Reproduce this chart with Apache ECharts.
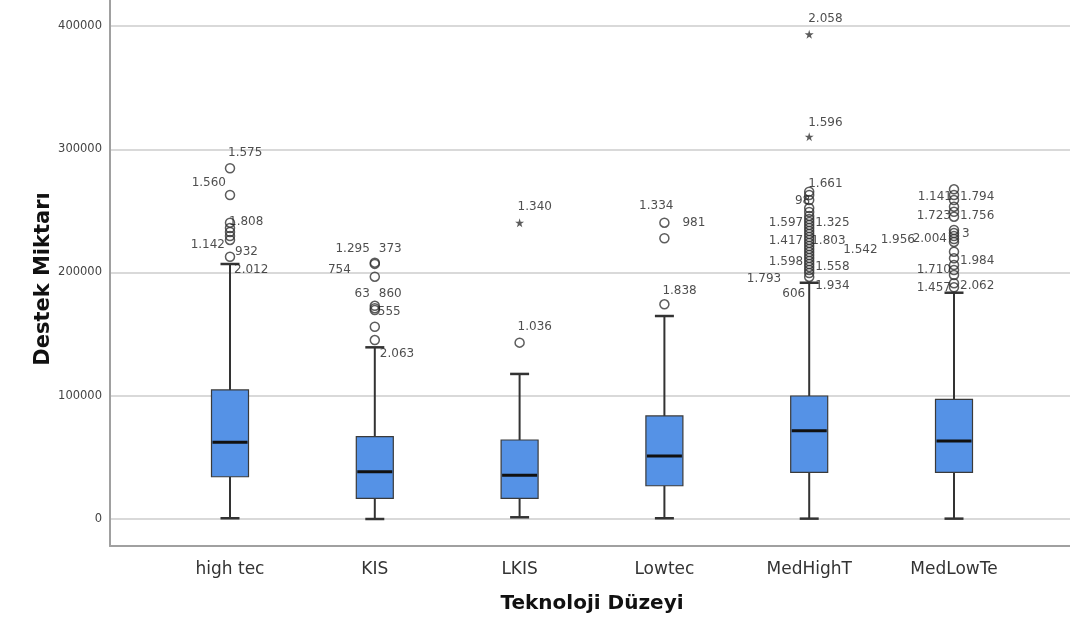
<!DOCTYPE html>
<html>
<head>
<meta charset="utf-8">
<script src="https://cdn.jsdelivr.net/npm/echarts@6/dist/echarts.min.js"></script>
<style>html,body{margin:0;padding:0;background:#fff}#c{width:1070px;height:622px}</style>
</head>
<body>
<div id="c"></div>
<script>
const categories = ['high tec', 'KIS', 'LKIS', 'Lowtec', 'MedHighT', 'MedLowTe'];
const yTicks = [0, 100000, 200000, 300000, 400000];
// [lower whisker, Q1, median, Q3, upper whisker]
const boxStats = [
  [600, 34300, 62200, 104700, 206900],
  [0, 16800, 38400, 66800, 139300],
  [1400, 16800, 35500, 64100, 117700],
  [600, 27000, 51100, 83600, 164700],
  [300, 37900, 71600, 99800, 191700],
  [300, 37900, 63300, 97100, 183600]
];
const outlierCircles = [
  [0, 284600], [0, 262900], [0, 240400], [0, 236100], [0, 232900], [0, 229600], [0, 226400], [0, 212800],
  [1, 208000], [1, 207000], [1, 196600], [1, 173000], [1, 171000], [1, 169500], [1, 156000], [1, 145200],
  [2, 143100],
  [3, 240400], [3, 227800], [3, 174200],
  [4, 265600], [4, 262900], [4, 258800], [4, 252300], [4, 249100], [4, 245900], [4, 243400], [4, 241000],
  [4, 238600], [4, 236100], [4, 233700], [4, 231300], [4, 228800], [4, 226400], [4, 224000], [4, 221500],
  [4, 219100], [4, 216600], [4, 214200], [4, 211800], [4, 209300], [4, 206900], [4, 204500], [4, 202000],
  [4, 199600], [4, 196400],
  [5, 267500], [5, 262900], [5, 258800], [5, 253400], [5, 249300], [5, 245300], [5, 234500], [5, 232000],
  [5, 229600], [5, 227200], [5, 224800], [5, 216900], [5, 211500], [5, 206100], [5, 202000], [5, 198000],
  [5, 191300], [5, 188000]
];
const outlierStars = [[2, 240400], [4, 393300], [4, 310200]];
// [category, value, case label]
const caseLabels = [
  [0, 297000, '1.575'], [0, 272600, '1.560'], [0, 241000, '1.808'], [0, 222300, '1.142'],
  [0, 216600, '932'], [0, 202000, '2.012'],
  [1, 219100, '1.295'], [1, 219100, '373'], [1, 202000, '754'], [1, 182600, '63'],
  [1, 182600, '860'], [1, 168000, '555'], [1, 133900, '2.063'],
  [2, 253200, '1.340'], [2, 155800, '1.036'],
  [3, 254000, '1.334'], [3, 240200, '981'], [3, 185300, '1.838'],
  [4, 405700, '2.058'], [4, 321300, '1.596'], [4, 271800, '1.661'], [4, 258000, '98'],
  [4, 240200, '1.597'], [4, 240200, '1.325'], [4, 225600, '1.417'], [4, 225600, '1.803'],
  [4, 218300, '1.542'], [4, 208500, '1.598'], [4, 204500, '1.558'], [4, 194700, '1.793'],
  [4, 182600, '606'], [4, 189000, '1.934'],
  [5, 261300, '1.141'], [5, 261300, '1.794'], [5, 245900, '1.723'], [5, 245900, '1.756'],
  [5, 226400, '1.956'], [5, 227200, '2.004'], [5, 231300, '3'], [5, 209300, '1.984'],
  [5, 202000, '1.710'], [5, 187400, '1.457'], [5, 189000, '2.062']
];
// label anchor side and pixel shift, parallel to caseLabels
const labelPlacement = [
  ['left', -2], ['right', -4], ['left', -1], ['right', -5], ['left', 5], ['left', 4],
  ['right', -5], ['left', 4], ['right', -24], ['right', -5], ['left', 4], ['left', 3], ['left', 5],
  ['left', -2], ['left', -2],
  ['right', 9], ['left', 18], ['left', -2],
  ['left', -1], ['left', -1], ['left', -1], ['right', 1],
  ['right', -6], ['left', 6], ['right', -6], ['left', 2],
  ['left', 34], ['right', -6], ['left', 6], ['right', -28],
  ['right', -4], ['left', 6],
  ['right', -2], ['left', 6], ['right', -3], ['left', 6],
  ['right', -39], ['right', -7], ['left', 8], ['left', 6],
  ['right', -3], ['right', -3], ['left', 6]
];

const Y_MIN = -21900, Y_MAX = 421100;
const chart = echarts.init(document.getElementById('c'), null, {renderer: 'canvas'});
const starPath = 'path://M50,0 L61,35 L98,35 L68,57 L79,91 L50,70 L21,91 L32,57 L2,35 L39,35 Z';

const option = {
  animation: false,
  backgroundColor: '#fff',
  grid: [
    {left: 110, right: 0, top: 0, bottom: 76},
    {left: 157.6, right: 43.6, top: 0, bottom: 76}
  ],
  xAxis: [
    {gridIndex: 0, type: 'value', min: 0, max: 1, axisLine: {show: true, onZero: false, lineStyle: {color: '#a0a0a0', width: 2}},
     axisTick: {show: false}, axisLabel: {show: false}, splitLine: {show: false}},
    {gridIndex: 1, type: 'category', data: categories, boundaryGap: true,
     axisLine: {show: false}, axisTick: {show: false}, splitLine: {show: false},
     axisLabel: {margin: 15, color: '#333', fontFamily: 'DejaVu Sans', fontSize: 17}}
  ],
  yAxis: [
    {gridIndex: 0, type: 'value', min: Y_MIN, max: Y_MAX,
     axisLine: {show: true, lineStyle: {color: '#a0a0a0', width: 2}},
     axisTick: {show: false, customValues: yTicks},
     axisLabel: {customValues: yTicks, margin: 8, color: '#444', fontFamily: 'DejaVu Sans', fontSize: 11.5,
                 formatter: v => String(v)},
     splitLine: {show: true, lineStyle: {color: '#d9d9d9', width: 2}}},
    {gridIndex: 1, type: 'value', min: Y_MIN, max: Y_MAX, show: false, splitLine: {show: false}}
  ],
  graphic: [
    {type: 'text', x: 44, y: 279, rotation: Math.PI / 2,
     style: {text: 'Destek Miktarı', font: 'bold 21px "DejaVu Sans"', fill: '#111', textAlign: 'center', textVerticalAlign: 'middle'}},
    {type: 'text', x: 592, y: 604,
     style: {text: 'Teknoloji Düzeyi', font: 'bold 20px "DejaVu Sans"', fill: '#111', textAlign: 'center', textVerticalAlign: 'middle'}}
  ],
  series: [
    {
      type: 'custom', xAxisIndex: 1, yAxisIndex: 1, z: 3,
      data: boxStats.map((s, i) => [i].concat(s)),
      renderItem: function (params, api) {
        const i = api.value(0);
        const lo = api.coord([i, api.value(1)]);
        const q1 = api.coord([i, api.value(2)]);
        const md = api.coord([i, api.value(3)]);
        const q3 = api.coord([i, api.value(4)]);
        const hi = api.coord([i, api.value(5)]);
        const x = lo[0];
        const bw = 37, cw = 19;
        const ls = {stroke: '#333', lineWidth: 2};
        return {
          type: 'group',
          children: [
            {type: 'line', shape: {x1: x, y1: hi[1], x2: x, y2: q3[1]}, style: ls},
            {type: 'line', shape: {x1: x, y1: q1[1], x2: x, y2: lo[1]}, style: ls},
            {type: 'line', shape: {x1: x - cw / 2, y1: hi[1], x2: x + cw / 2, y2: hi[1]}, style: {stroke: '#333', lineWidth: 2.5}},
            {type: 'line', shape: {x1: x - cw / 2, y1: lo[1], x2: x + cw / 2, y2: lo[1]}, style: {stroke: '#333', lineWidth: 2.5}},
            {type: 'rect', shape: {x: x - bw / 2, y: q3[1], width: bw, height: q1[1] - q3[1]},
             style: {fill: '#5592e6', stroke: '#3a3a3a', lineWidth: 1.2}},
            {type: 'line', shape: {x1: x - bw / 2 + 1, y1: md[1], x2: x + bw / 2 - 1, y2: md[1]},
             style: {stroke: '#111', lineWidth: 3}}
          ]
        };
      }
    },
    {
      type: 'scatter', xAxisIndex: 1, yAxisIndex: 1, z: 4,
      data: outlierCircles, symbol: 'circle', symbolSize: 9,
      itemStyle: {color: 'rgba(0,0,0,0)', borderColor: '#333', borderWidth: 1.5}
    },
    {
      type: 'scatter', xAxisIndex: 1, yAxisIndex: 1, z: 4,
      data: outlierStars, symbol: starPath, symbolSize: 9,
      itemStyle: {color: '#333'}
    },
    {
      type: 'scatter', xAxisIndex: 1, yAxisIndex: 1, z: 5, symbolSize: 0, silent: true,
      data: caseLabels.map((d, k) => ({
        value: [d[0], d[1]], name: d[2],
        label: {align: labelPlacement[k][0], offset: [labelPlacement[k][1], 0]}
      })),
      label: {show: true, position: 'inside', formatter: p => p.name, verticalAlign: 'middle',
              color: '#222', fontFamily: 'DejaVu Sans', fontSize: 12}
    }
  ]
};
chart.setOption(option);
</script>
</body>
</html>
